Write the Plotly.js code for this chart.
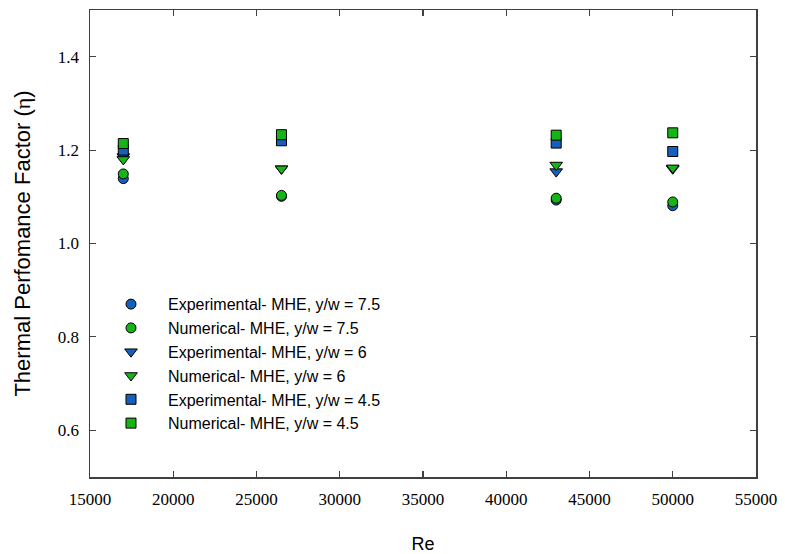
<!DOCTYPE html>
<html>
<head>
<meta charset="utf-8">
<script src="https://cdn.plot.ly/plotly-3.0.1.min.js"></script>
<style>html,body{margin:0;padding:0;background:#fff;}#chart{width:785px;height:554px;}</style>
</head>
<body>
<div id="chart"></div>
<script>
// Reynolds numbers
const re = [17000, 26500, 43000, 50000];
// Thermal performance factor series
const expYW75 = [1.139, 1.101, 1.093, 1.081];
const numYW75 = [1.149, 1.103, 1.097, 1.089];
const expYW6  = [1.186, 1.160, 1.154, 1.160];
const numYW6  = [1.180, 1.160, 1.168, 1.162];
const expYW45 = [1.200, 1.220, 1.215, 1.197];
const numYW45 = [1.214, 1.233, 1.232, 1.237];
const seriesNames = [
  "Experimental- MHE, y/w = 7.5",
  "Numerical- MHE, y/w = 7.5",
  "Experimental- MHE, y/w = 6",
  "Numerical- MHE, y/w = 6",
  "Experimental- MHE, y/w = 4.5",
  "Numerical- MHE, y/w = 4.5"
];
const xTicks = [15000, 20000, 25000, 30000, 35000, 40000, 45000, 50000, 55000];
const yTicks = [0.6, 0.8, 1.0, 1.2, 1.4];

const BLUE = "#1560bd", GREEN = "#17b417";
const ys = [expYW75, numYW75, expYW6, numYW6, expYW45, numYW45];
const symbols = ["circle", "circle", "triangle-down", "triangle-down", "square", "square"];
const colors = [BLUE, GREEN, BLUE, GREEN, BLUE, GREEN];
const sizes = [10, 10, 11, 11, 10, 10];

const traces = ys.map((y, i) => ({
  type: "scatter", mode: "markers", x: re, y: y, name: seriesNames[i],
  marker: {symbol: symbols[i], color: colors[i], size: sizes[i], line: {color: "#000", width: 1}}
}));

const SERIF = "Liberation Serif";
const SANS = "Liberation Sans";

const axisCommon = {
  showgrid: false, zeroline: false, showline: true, linecolor: "#404040", linewidth: 1.5,
  mirror: "ticks", ticks: "inside", ticklen: 6, tickwidth: 1.2, tickcolor: "#404040",
  tickfont: {family: SERIF, size: 17, color: "#000"}
};

const layout = {
  width: 785, height: 554,
  margin: {l: 90, r: 29, t: 10, b: 77},
  paper_bgcolor: "#fff", plot_bgcolor: "#fff",
  font: {family: SERIF, size: 17, color: "#000"},
  showlegend: true,
  xaxis: Object.assign({}, axisCommon, {
    range: [15000, 55000], tickvals: xTicks, ticktext: xTicks.map(String),
    ticklabelstandoff: 6,
    title: {text: "Re", font: {family: SANS, size: 18, color: "#000"}, standoff: 30}
  }),
  yaxis: Object.assign({}, axisCommon, {
    range: [0.5, 1.5], tickvals: yTicks, ticktext: yTicks.map(v => v.toFixed(1)),
    ticklabelstandoff: 6,
    title: {text: "Thermal Perfomance Factor (<span style=\"font-family:Liberation Serif\">η</span>)", font: {family: SANS, size: 22, color: "#000"}, standoff: 21}
  }),
  legend: {
    x: 0.006, y: 0.4064, xanchor: "left", yanchor: "top",
    bgcolor: "rgba(0,0,0,0)", borderwidth: 0, itemwidth: 64,
    font: {family: SANS, size: 16, color: "#000"}
  }
};

Plotly.newPlot("chart", traces, layout, {displayModeBar: false, staticPlot: true});
</script>
</body>
</html>
